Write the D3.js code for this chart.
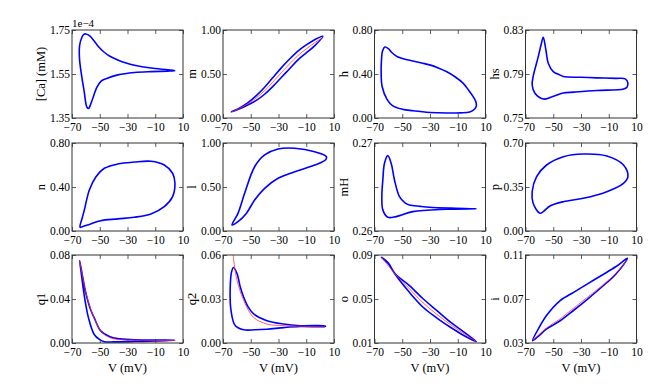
<!DOCTYPE html>
<html><head><meta charset="utf-8">
<script src="https://cdn.jsdelivr.net/npm/d3@7"></script>
<style>
html,body{margin:0;padding:0;background:#fff;}
svg text{font-family:"Liberation Serif","DejaVu Serif",serif;fill:#000;}
</style></head>
<body><svg id="chart" width="669" height="388"></svg>
<script>
// ---------- data ----------
const vTicks = [-70, -50, -30, -10, 10];
const vLabels = ["\u221270", "\u221250", "\u221230", "\u221210", "10"];

const yLabels = ["[Ca] (mM)", "m", "h", "hs", "n", "l", "mH", "p", "q1", "q2", "o", "i"];
const caTicks = [1.35, 1.55, 1.75];
const mTicks = [0, 0.5, 1];
const hTicks = [0, 0.4, 0.8];
const hsTicks = [0.75, 0.79, 0.83];
const nTicks = [0, 0.4, 0.8];
const lTicks = [0, 0.5, 1];
const mHTicks = [0.26, 0.265, 0.27];
const pTicks = [0, 0.35, 0.7];
const q1Ticks = [0, 0.04, 0.08];
const q2Ticks = [0, 0.03, 0.06];
const oTicks = [0.01, 0.05, 0.09];
const iTicks = [0.03, 0.07, 0.11];
const caTickText = ["1.35", "1.55", "1.75"];
const mTickText = ["0.00", "0.50", "1.00"];
const hTickText = ["0.00", "0.40", "0.80"];
const hsTickText = ["0.75", "0.79", "0.83"];
const nTickText = ["0.00", "0.40", "0.80"];
const lTickText = ["0.00", "0.50", "1.00"];
const mHTickText = ["0.26", "", "0.27"];
const pTickText = ["0.00", "0.35", "0.70"];
const q1TickText = ["0.00", "0.04", "0.08"];
const q2TickText = ["0.00", "0.03", "0.06"];
const oTickText = ["0.01", "0.05", "0.09"];
const iTickText = ["0.03", "0.07", "0.11"];

// closed trajectories [V, value]
const caLoop = [[-60,1.732],[-57,1.722],[-54,1.70],[-51,1.675],[-47,1.65],[-43,1.632],[-37,1.614],[-31,1.60],[-25,1.59],[-13,1.577],[-1,1.569],[4,1.565],[-1,1.563],[-13,1.561],[-25,1.557],[-37,1.546],[-45,1.53],[-49,1.518],[-52,1.49],[-55,1.44],[-57,1.405],[-58,1.393],[-59.3,1.40],[-61.2,1.47],[-63,1.54],[-64.6,1.62],[-64.5,1.68],[-63,1.715],[-61.5,1.73]];
const mLoop = [[-64,0.07],[-58,0.115],[-52,0.175],[-46,0.255],[-40,0.35],[-34,0.46],[-28,0.57],[-22,0.67],[-16,0.76],[-10,0.83],[-4,0.89],[2,0.93],[-4,0.82],[-10,0.74],[-16,0.66],[-22,0.56],[-28,0.46],[-34,0.36],[-40,0.27],[-46,0.2],[-52,0.15],[-58,0.105]];
const mRed = [[-64,0.068],[-58,0.11],[-52,0.163],[-46,0.23],[-40,0.31],[-34,0.41],[-28,0.515],[-22,0.615],[-16,0.71],[-10,0.785],[-4,0.855],[2,0.915]];
const hLoop = [[-62.5,0.645],[-60,0.63],[-57.9,0.60],[-55,0.57],[-53,0.555],[-48,0.535],[-42.3,0.519],[-36,0.50],[-30.3,0.483],[-24,0.455],[-18.2,0.422],[-12,0.375],[-6.2,0.317],[-2,0.25],[1,0.196],[3,0.15],[3.4,0.11],[2,0.08],[-1.4,0.055],[-8,0.047],[-18,0.045],[-30,0.05],[-42.3,0.066],[-50,0.08],[-56.8,0.111],[-61,0.17],[-64.5,0.286],[-65.2,0.408],[-65,0.52],[-64.2,0.61]];
const hsLoop = [[-57.2,0.8234],[-55.3,0.8119],[-53.6,0.7998],[-50,0.7922],[-45,0.789],[-42.8,0.7877],[-30,0.787],[-18.6,0.7865],[-5,0.786],[1.9,0.7856],[3.8,0.7817],[3.1,0.778],[0.7,0.7763],[-18.6,0.775],[-35,0.7735],[-42.8,0.7727],[-51.2,0.769],[-57.2,0.7672],[-63.3,0.7727],[-65.2,0.7802],[-64.5,0.7877],[-60.8,0.8058],[-58.5,0.818]];
const nLoop = [[-64.2,0.034],[-62.6,0.12],[-61.1,0.191],[-57.5,0.373],[-52.7,0.494],[-46.7,0.57],[-37.1,0.609],[-25.1,0.627],[-13.1,0.634],[-3.5,0.60],[2.5,0.525],[4.2,0.434],[2.5,0.312],[-3.5,0.221],[-13.1,0.155],[-25.1,0.125],[-37,0.11],[-49.4,0.094],[-56.6,0.064],[-62.6,0.039]];
const lLoop = [[-63.5,0.068],[-59.2,0.2],[-54.4,0.428],[-47.2,0.73],[-40,0.864],[-30.3,0.932],[-18.3,0.94],[-3.9,0.90],[4.5,0.845],[3.8,0.807],[-3.9,0.75],[-18.3,0.674],[-30.3,0.599],[-40,0.485],[-47.2,0.352],[-53.2,0.2],[-59.2,0.106]];
const mHLoop = [[-60.4,0.26856],[-58,0.2677],[-55.6,0.2658],[-52,0.2639],[-48,0.2632],[-44.8,0.26295],[-37,0.2628],[-30.3,0.2627],[-15,0.2626],[3.4,0.26253],[-18.3,0.26247],[-42.4,0.2622],[-54.4,0.26163],[-60.4,0.26156],[-64,0.2624],[-64.7,0.2639],[-64,0.2658],[-62.8,0.2677]];
const pLoop = [[-59.6,0.141],[-64.5,0.22],[-65.2,0.313],[-62,0.432],[-54.8,0.525],[-42.7,0.591],[-28.3,0.6125],[-11.4,0.597],[0.6,0.525],[3.8,0.432],[0.6,0.379],[-11.4,0.313],[-28.3,0.26],[-42.7,0.233],[-52.3,0.199],[-57.2,0.154]];
const q1Loop = [[-64.5,0.075],[-62.3,0.06],[-59.9,0.0448],[-56.5,0.03],[-54.1,0.0233],[-49.3,0.011],[-43,0.006],[-37.2,0.004],[-25,0.003],[-10,0.0026],[4,0.0025],[-10,0.0018],[-25,0.0013],[-40,0.001],[-46.7,0.0012],[-50,0.003],[-54.1,0.008],[-58.2,0.0233],[-61,0.042],[-63.5,0.065]];
const q1Red = [[-64.5,0.075],[-62,0.058],[-59.9,0.045],[-56,0.029],[-52,0.017],[-48,0.009],[-42,0.0045],[-35,0.003],[-20,0.0025],[4,0.0022]];
const q2Loop = [[-62.4,0.0515],[-59.9,0.0474],[-57.5,0.038],[-55.1,0.0312],[-51.5,0.024],[-47.9,0.0198],[-38.3,0.0152],[-26.3,0.0129],[-14.3,0.0118],[3.7,0.0116],[3.7,0.0113],[-14.3,0.0112],[-26,0.0105],[-38.3,0.0094],[-47,0.009],[-55.1,0.009],[-61.1,0.0117],[-64.2,0.022],[-64.7,0.0405],[-63.7,0.049]];
const q2Red = [[-62.8,0.064],[-62.3,0.0566],[-59.9,0.0428],[-55.1,0.029],[-47.9,0.0174],[-38.3,0.0129],[-26,0.0118],[-14,0.0114],[3.5,0.011]];
const oLoop = [[-65,0.088],[-60,0.0826],[-55,0.0728],[-45,0.0624],[-35,0.0502],[-25,0.0394],[-15,0.0287],[-5,0.0195],[3.5,0.0112],[-5,0.0164],[-15,0.0241],[-25,0.0327],[-35,0.0425],[-45,0.0563],[-55,0.0722],[-60,0.0820]];
const oRed = [[-65,0.088],[-55,0.0725],[-45,0.0595],[-35,0.0465],[-25,0.036],[-15,0.0265],[-5,0.018],[3.5,0.0112]];
const iLoop = [[-65,0.032],[-60,0.0445],[-55,0.0548],[-45,0.0686],[-35,0.0763],[-25,0.084],[-15,0.0916],[-5,0.0993],[3.5,0.107],[-5,0.0925],[-15,0.0809],[-25,0.0702],[-35,0.06],[-45,0.0502],[-55,0.0426],[-60,0.037]];
const iRed = [[-65,0.032],[-55,0.0435],[-45,0.052],[-35,0.062],[-25,0.072],[-15,0.082],[-5,0.093],[3.5,0.106]];

// ---------- layout ----------
const svg = d3.select("#chart");
const colLeft = [72, 223, 374.5, 525.5];
const rowTop = [30, 143, 255];
const W = 111, H = 88;
const FONT = "'Liberation Serif', 'Times New Roman', serif";

const panels = [
  {lab: yLabels[0], ticks: caTicks, text: caTickText, loop: caLoop, red: null, offset: "1e\u22124"},
  {lab: yLabels[1], ticks: mTicks, text: mTickText, loop: mLoop, red: mRed},
  {lab: yLabels[2], ticks: hTicks, text: hTickText, loop: hLoop, red: null},
  {lab: yLabels[3], ticks: hsTicks, text: hsTickText, loop: hsLoop, red: null},
  {lab: yLabels[4], ticks: nTicks, text: nTickText, loop: nLoop, red: null},
  {lab: yLabels[5], ticks: lTicks, text: lTickText, loop: lLoop, red: null},
  {lab: yLabels[6], ticks: mHTicks, text: mHTickText, loop: mHLoop, red: null},
  {lab: yLabels[7], ticks: pTicks, text: pTickText, loop: pLoop, red: null},
  {lab: yLabels[8], ticks: q1Ticks, text: q1TickText, loop: q1Loop, red: q1Red},
  {lab: yLabels[9], ticks: q2Ticks, text: q2TickText, loop: q2Loop, red: q2Red},
  {lab: yLabels[10], ticks: oTicks, text: oTickText, loop: oLoop, red: oRed},
  {lab: yLabels[11], ticks: iTicks, text: iTickText, loop: iLoop, red: iRed}
];

const defs = svg.append("defs");
panels.forEach((p, k) => {
  const r = Math.floor(k / 4), c = k % 4;
  const x0 = colLeft[c], y0 = rowTop[r];
  const x = d3.scaleLinear().domain([vTicks[0], vTicks[vTicks.length-1]]).range([0, W]);
  const y = d3.scaleLinear().domain([p.ticks[0], p.ticks[p.ticks.length-1]]).range([H, 0]);
  const g = svg.append("g").attr("transform", `translate(${x0},${y0})`);

  defs.append("clipPath").attr("id", "clip" + k)
    .append("rect").attr("width", W).attr("height", H);

  const plot = g.append("g").attr("clip-path", `url(#clip${k})`);
  const loopLine = d3.line().x(d => x(d[0])).y(d => y(d[1])).curve(d3.curveCatmullRomClosed.alpha(0.5));
  const openLine = d3.line().x(d => x(d[0])).y(d => y(d[1])).curve(d3.curveCatmullRom.alpha(0.5));
  plot.append("path").attr("d", loopLine(p.loop))
    .attr("fill", "none").attr("stroke", "#0000ff").attr("stroke-width", 1.6);
  if (p.red) {
    plot.append("path").attr("d", openLine(p.red))
      .attr("fill", "none").attr("stroke", "#ff3030").attr("stroke-width", 0.9).attr("stroke-opacity", 0.85);
  }

  // axes: inward ticks on all four sides
  const fmtX = (d, i) => vLabels[i];
  const fmtY = (d, i) => p.text[i];
  const ax = g.append("g").attr("transform", `translate(0,${H})`)
    .call(d3.axisBottom(x).tickValues(vTicks).tickFormat(fmtX).tickSizeInner(-4).tickSizeOuter(0).tickPadding(5));
  const axTop = g.append("g")
    .call(d3.axisTop(x).tickValues(vTicks).tickFormat("").tickSizeInner(-4).tickSizeOuter(0));
  const ay = g.append("g")
    .call(d3.axisLeft(y).tickValues(p.ticks).tickFormat(fmtY).tickSizeInner(-4).tickSizeOuter(0).tickPadding(2));
  const ayR = g.append("g").attr("transform", `translate(${W},0)`)
    .call(d3.axisRight(y).tickValues(p.ticks).tickFormat("").tickSizeInner(-4).tickSizeOuter(0));
  [ax, axTop, ay, ayR].forEach(a => {
    a.attr("font-family", FONT).attr("font-size", 11.5);
    a.select(".domain").remove();
    a.selectAll("line").attr("stroke", "#333").attr("stroke-width", 0.8);
    a.selectAll("text").attr("fill", "#000");
  });
  g.append("rect").attr("width", W).attr("height", H)
    .attr("fill", "none").attr("stroke", "#333").attr("stroke-width", 1);

  g.append("text").attr("transform", `translate(-31,${H/2}) rotate(-90)`)
    .attr("text-anchor", "middle").attr("dy", "0.35em")
    .attr("font-family", FONT).attr("font-size", 12.5).text(p.lab);
  if (r === 2) {
    g.append("text").attr("x", W/2).attr("y", H + 29)
      .attr("text-anchor", "middle").attr("font-family", FONT).attr("font-size", 12.5).text("V (mV)");
  }
  if (p.offset) {
    g.append("text").attr("x", 0).attr("y", -3).attr("font-family", FONT).attr("font-size", 11).text(p.offset);
  }
});
</script></body></html>
